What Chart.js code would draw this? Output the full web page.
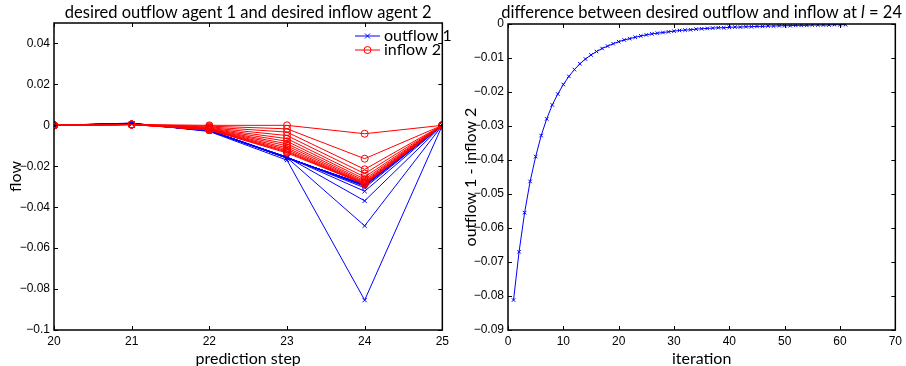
<!DOCTYPE html>
<html>
<head>
<meta charset="utf-8">
<script src="https://cdn.jsdelivr.net/npm/chart.js@4"></script>
<style>
  body { margin: 0; background: #fff; }
  canvas { position: absolute; top: 0; }
  #left { left: 0; }
  #right { left: 453px; }
</style>
</head>
<body>
<canvas id="left" width="453" height="366"></canvas>
<canvas id="right" width="453" height="366"></canvas>
<script>
// prediction steps (x of the left plot); steps 20 and 25 are 0 for every iteration
const steps = [20, 21, 22, 23, 24, 25];

// desired outflow agent 1, one value per plotted iteration, per prediction step
const outflow21 = [0.0011, 0.0010, 0.0010, 0.0009, 0.0009, 0.0009, 0.0008, 0.0008, 0.0008, 0.0008, 0.0008, 0.0008, 0.0008];
const outflow22 = [-0.0030, -0.0028, -0.0027, -0.0026, -0.0026, -0.0025, -0.0025, -0.0025, -0.0025, -0.0025, -0.0025, -0.0025, -0.0025];
const outflow23 = [-0.0170, -0.0158, -0.0155, -0.0155, -0.0156, -0.0157, -0.0158, -0.0158, -0.0159, -0.0159, -0.0160, -0.0160, -0.0160];
const outflow24 = [-0.0854, -0.0491, -0.0369, -0.0322, -0.0305, -0.0298, -0.0295, -0.0293, -0.0292, -0.0291, -0.0291, -0.0290, -0.0290];

// desired inflow agent 2
const inflow21 = [0.0004, 0.0004, 0.0004, 0.0004, 0.0004, 0.0004, 0.0004, 0.0004, 0.0004, 0.0004, 0.0004, 0.0004, 0.0004];
const inflow22 = [0.0000, -0.0004, -0.0008, -0.0011, -0.0014, -0.0016, -0.0018, -0.0019, -0.0020, -0.0021, -0.0022, -0.0022, -0.0023];
const inflow23 = [0.0000, -0.0017, -0.0033, -0.0050, -0.0065, -0.0078, -0.0090, -0.0100, -0.0110, -0.0118, -0.0125, -0.0130, -0.0135];
const inflow24 = [-0.0041, -0.0163, -0.0215, -0.0236, -0.0252, -0.0263, -0.0271, -0.0277, -0.0281, -0.0284, -0.0286, -0.0287, -0.0288];

// difference outflow 1 - inflow 2 at l = 24, iterations 1..61
const diffAt24 = [
  -0.0812, -0.0670, -0.0555, -0.0463, -0.0390, -0.0328, -0.0279, -0.0238, -0.0206, -0.0178,
  -0.0154, -0.0134, -0.0117, -0.0103, -0.0091, -0.0081, -0.0072, -0.0065, -0.0058, -0.0052,
  -0.0047, -0.0043, -0.0039, -0.0035, -0.0032, -0.0029, -0.0027, -0.0025, -0.0023, -0.0021,
  -0.0019, -0.0018, -0.0017, -0.0015, -0.0014, -0.0013, -0.0012, -0.0011, -0.0011, -0.0010,
  -0.0009, -0.0009, -0.0008, -0.0008, -0.0007, -0.0007, -0.0006, -0.0006, -0.0005, -0.0005,
  -0.0005, -0.0004, -0.0004, -0.0004, -0.0003, -0.0003, -0.0003, -0.0003, -0.0002, -0.0002,
  -0.0002
];

// tick labels
const leftXTicks = [20, 21, 22, 23, 24, 25];
const leftYTicks = [-0.1, -0.08, -0.06, -0.04, -0.02, 0, 0.02, 0.04];
const rightXTicks = [0, 10, 20, 30, 40, 50, 60, 70];
const rightYTicks = [-0.09, -0.08, -0.07, -0.06, -0.05, -0.04, -0.03, -0.02, -0.01, 0];

const FONT = 'Lato';
const TITLESIZE = 16.5;
const TICKFONT = { family: 'Liberation Sans', size: 12 };

function fmt(v) {
  return String(+v.toFixed(4)).replace('-', '\u2212');
}

function fixedTicks(list) {
  return function (scale) {
    scale.ticks = list.map(v => ({ value: v }));
  };
}

// matlab style box with inward ticks on all four sides
const boxPlugin = {
  id: 'box',
  afterDatasetsDraw(chart) {
    const { ctx, chartArea: a, scales } = chart;
    ctx.save();
    ctx.strokeStyle = '#000';
    ctx.lineWidth = 1;
    ctx.beginPath();
    scales.x.ticks.forEach(t => {
      const px = Math.round(scales.x.getPixelForValue(t.value)) + 0.5;
      ctx.moveTo(px, a.bottom); ctx.lineTo(px, a.bottom - 4);
      ctx.moveTo(px, a.top); ctx.lineTo(px, a.top + 4);
    });
    scales.y.ticks.forEach(t => {
      const py = Math.round(scales.y.getPixelForValue(t.value)) + 0.5;
      ctx.moveTo(a.left, py); ctx.lineTo(a.left + 4, py);
      ctx.moveTo(a.right, py); ctx.lineTo(a.right - 4, py);
    });
    ctx.stroke();
    ctx.lineWidth = 1.5;
    ctx.strokeRect(a.left, a.top, a.width, a.height);
    ctx.restore();
  }
};

// title centred over the axes, parts may be italic
const titlePlugin = {
  id: 'mtitle',
  afterDraw(chart, args, opts) {
    const { ctx, chartArea: a } = chart;
    const parts = opts.parts || [];
    ctx.save();
    ctx.fillStyle = '#000';
    ctx.textBaseline = 'alphabetic';
    let total = 0;
    parts.forEach(p => {
      ctx.font = (p.italic ? 'italic ' : '') + TITLESIZE + 'px ' + FONT;
      p.w = ctx.measureText(p.text).width;
      total += p.w;
    });
    let x = (a.left + a.right) / 2 - total / 2;
    parts.forEach(p => {
      ctx.font = (p.italic ? 'italic ' : '') + TITLESIZE + 'px ' + FONT;
      ctx.fillText(p.text, x, 18);
      x += p.w;
    });
    ctx.restore();
  }
};

// legend drawn inside the top right corner
const legendPlugin = {
  id: 'mlegend',
  afterDraw(chart, args, opts) {
    if (!opts.items) return;
    const { ctx } = chart;
    ctx.save();
    opts.items.forEach((it, i) => {
      const y = 36 + i * 14;
      ctx.strokeStyle = it.color;
      ctx.lineWidth = 1;
      ctx.beginPath();
      ctx.moveTo(355, y); ctx.lineTo(380, y);
      if (it.marker === 'x') {
        ctx.moveTo(365, y - 2.5); ctx.lineTo(370, y + 2.5);
        ctx.moveTo(365, y + 2.5); ctx.lineTo(370, y - 2.5);
        ctx.stroke();
      } else {
        ctx.stroke();
        ctx.beginPath();
        ctx.arc(367.5, y, 3.5, 0, Math.PI * 2);
        ctx.stroke();
      }
      ctx.fillStyle = '#000';
      ctx.font = '16px ' + FONT;
      ctx.textBaseline = 'middle';
      ctx.fillText(it.label, 384, y);
    });
    ctx.restore();
  }
};

Chart.register(boxPlugin, titlePlugin, legendPlugin);

function axis(min, max, ticks, title, width, height, titlePad) {
  return {
    type: 'linear',
    min: min,
    max: max,
    afterBuildTicks: fixedTicks(ticks),
    afterFit(scale) {
      if (width) scale.width = width;
      if (height) scale.height = height;
    },
    grid: { display: false, drawTicks: false },
    border: { display: false },
    ticks: { color: '#000', font: TICKFONT, padding: 4, autoSkip: false, maxRotation: 0, callback: v => fmt(v) },
    title: { display: true, text: title, color: '#000', font: { family: FONT, size: 16 }, padding: titlePad }
  };
}

// left plot datasets: inflow first so the red lines sit on top
const leftSets = [];
const nIter = outflow24.length;
for (let k = 0; k < nIter; k++) {
  const vals = [0, inflow21[k], inflow22[k], inflow23[k], inflow24[k], 0];
  leftSets.push({
    label: 'inflow 2',
    data: steps.map((s, j) => ({ x: s, y: vals[j] })),
    borderColor: '#ff0000',
    backgroundColor: 'rgba(0,0,0,0)',
    borderWidth: 1,
    pointStyle: 'circle',
    pointRadius: 3.5,
    pointBorderWidth: 1,
    pointBorderColor: '#ff0000'
  });
}
for (let k = 0; k < nIter; k++) {
  const vals = [0, outflow21[k], outflow22[k], outflow23[k], outflow24[k], 0];
  leftSets.push({
    label: 'outflow 1',
    data: steps.map((s, j) => ({ x: s, y: vals[j] })),
    borderColor: '#0000ff',
    backgroundColor: 'rgba(0,0,0,0)',
    borderWidth: 1,
    pointStyle: 'crossRot',
    pointRadius: 3,
    pointBorderWidth: 1,
    pointBorderColor: '#0000ff'
  });
}

new Chart(document.getElementById('left'), {
  type: 'line',
  data: { datasets: leftSets },
  options: {
    responsive: false,
    animation: false,
    events: [],
    layout: { padding: { top: 23, right: 10, left: 0, bottom: 0 } },
    scales: {
      x: axis(20, 25, leftXTicks, 'prediction step', 0, 36, { top: 0, bottom: -2 }),
      y: axis(-0.1, 0.05, leftYTicks, 'flow', 54, 0, { top: 6, bottom: 2 })
    },
    plugins: {
      legend: { display: false },
      tooltip: { enabled: false },
      mtitle: { parts: [{ text: 'desired outflow agent 1 and desired inflow agent 2' }] },
      mlegend: { items: [
        { label: 'outflow 1', color: '#0000ff', marker: 'x' },
        { label: 'inflow 2', color: '#ff0000', marker: 'o' }
      ] }
    }
  }
});

new Chart(document.getElementById('right'), {
  type: 'line',
  data: {
    datasets: [{
      label: 'outflow 1 - inflow 2',
      data: diffAt24.map((v, i) => ({ x: i + 1, y: v })),
      borderColor: '#0000ff',
      backgroundColor: 'rgba(0,0,0,0)',
      borderWidth: 1,
      pointStyle: 'crossRot',
      pointRadius: 2.5,
      pointBorderWidth: 1,
      pointBorderColor: '#0000ff'
    }]
  },
  options: {
    responsive: false,
    animation: false,
    events: [],
    layout: { padding: { top: 24, right: 9, left: 0, bottom: 0 } },
    scales: {
      x: axis(0, 70, rightXTicks, 'iteration', 0, 36, { top: 0, bottom: -2 }),
      y: axis(-0.09, 0, rightYTicks, 'outflow 1 - inflow 2', 55, 0, { top: 8, bottom: 2 })
    },
    plugins: {
      legend: { display: false },
      tooltip: { enabled: false },
      mtitle: { parts: [
        { text: 'difference between desired outflow and inflow at ' },
        { text: 'l', italic: true },
        { text: ' = 24' }
      ] }
    }
  }
});
</script>
</body>
</html>
